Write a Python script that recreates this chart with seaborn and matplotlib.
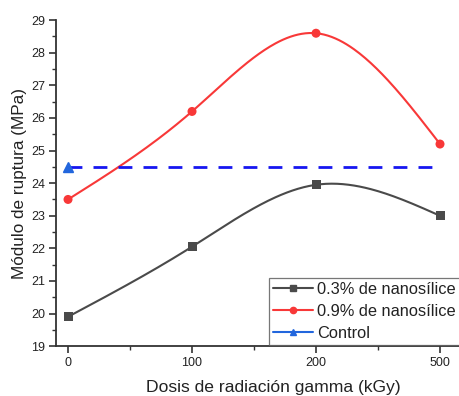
import numpy as np
import pandas as pd
import matplotlib
matplotlib.use("Agg")
import matplotlib.pyplot as plt
from matplotlib.lines import Line2D
from matplotlib.ticker import MultipleLocator, FixedLocator
import seaborn as sns

# Gamma dose categories (kGy) and flexural modulus of rupture (MPa)
doses = ["0", "100", "200", "500"]
nano_03 = [19.9, 22.05, 23.95, 23.0]
nano_09 = [23.5, 26.2, 28.6, 25.2]
control = [24.5, 24.5, 24.5, 24.5]

labels = ["0.3% de nanosílice", "0.9% de nanosílice", "Control"]

sns.set_theme(style="ticks")
plt.rcParams["font.family"] = ["Liberation Sans", "DejaVu Sans"]


def natural_spline(x, y, n=200):
    """Natural cubic spline through (x, y), evaluated on a fine grid."""
    x = np.asarray(x, float)
    y = np.asarray(y, float)
    k = len(x)
    h = np.diff(x)
    A = np.zeros((k, k))
    b = np.zeros(k)
    A[0, 0] = A[-1, -1] = 1.0
    for i in range(1, k - 1):
        A[i, i - 1] = h[i - 1]
        A[i, i] = 2 * (h[i - 1] + h[i])
        A[i, i + 1] = h[i]
        b[i] = 6 * ((y[i + 1] - y[i]) / h[i] - (y[i] - y[i - 1]) / h[i - 1])
    M = np.linalg.solve(A, b)
    xs = np.linspace(x[0], x[-1], n)
    ys = np.empty_like(xs)
    for j, t in enumerate(xs):
        i = min(np.searchsorted(x, t, side="right") - 1, k - 2)
        a, c = x[i], x[i + 1]
        hi = c - a
        ys[j] = (M[i] * (c - t) ** 3 / (6 * hi) + M[i + 1] * (t - a) ** 3 / (6 * hi)
                 + (y[i] / hi - M[i] * hi / 6) * (c - t)
                 + (y[i + 1] / hi - M[i + 1] * hi / 6) * (t - a))
    return xs, ys


pos = np.arange(len(doses))
df = pd.DataFrame({
    "pos": np.tile(pos, 2),
    "valor": nano_03 + nano_09,
    "serie": [labels[0]] * 4 + [labels[1]] * 4,
})

fig = plt.figure(figsize=(4.59, 3.96), dpi=100)
# the plotting area runs past the right edge of the canvas
ax = fig.add_axes([0.122, 0.126, 0.9455, 0.823])

c03, c09 = "#4a4a4a", "#f83838"
c_dash, c_ctrl = "#1616f0", "#2266dd"

for vals, col in [(nano_03, c03), (nano_09, c09)]:
    xs, ys = natural_spline(pos, vals)
    ax.plot(xs, ys, color=col, lw=1.5, zorder=2)

sns.scatterplot(data=df, x="pos", y="valor", hue="serie", style="serie",
                palette={labels[0]: c03, labels[1]: c09},
                markers={labels[0]: "s", labels[1]: "o"},
                s=42, edgecolor="none", legend=False, ax=ax, zorder=3)

# Control reference level
sns.lineplot(x=pos, y=control, color=c_dash, lw=2.0, ax=ax, zorder=2)
ax.lines[-1].set_dashes([5, 4])
ax.plot(pos[:1], control[:1], marker="^", ms=7, color=c_ctrl, ls="none", zorder=3)

ax.set_xlim(-0.097, 3.403)
ax.set_ylim(19, 29)
ax.xaxis.set_major_locator(FixedLocator(pos))
ax.set_xticklabels(doses)
ax.xaxis.set_minor_locator(FixedLocator([0.5, 1.5, 2.5, 3.5]))
ax.yaxis.set_major_locator(MultipleLocator(1))
ax.yaxis.set_minor_locator(MultipleLocator(0.5))

for s in ["top", "right"]:
    ax.spines[s].set_visible(False)
for s in ["left", "bottom"]:
    ax.spines[s].set_color("#333333")
    ax.spines[s].set_linewidth(1.3)
ax.tick_params(which="major", direction="out", length=5, width=1.2,
               color="#333333", labelsize=9, labelcolor="#222222", pad=3)
ax.tick_params(which="minor", direction="out", length=3, width=1.0, color="#333333")

ax.set_xlabel("Dosis de radiación gamma (kGy)", fontsize=12.6, color="#222222", labelpad=7.5)
ax.set_ylabel("Módulo de ruptura (MPa)", fontsize=12.3, color="#222222", labelpad=3)

handles = [
    Line2D([], [], color=c03, lw=1.5, marker="s", ms=4.5),
    Line2D([], [], color=c09, lw=1.5, marker="o", ms=4.5),
    Line2D([], [], color=c_ctrl, lw=1.5, marker="^", ms=4.5),
]
leg = ax.legend(handles, labels, loc="upper left", bbox_to_anchor=(0.491, 0.210),
                fontsize=11.8, frameon=True, fancybox=False, borderpad=0.25,
                handlelength=2.4, handletextpad=0.3, labelspacing=0.42,
                borderaxespad=0)
leg.get_frame().set_edgecolor("#555555")
leg.get_frame().set_linewidth(0.9)
for t in leg.get_texts():
    t.set_color("#222222")

fig.savefig("out.png", dpi=100)
